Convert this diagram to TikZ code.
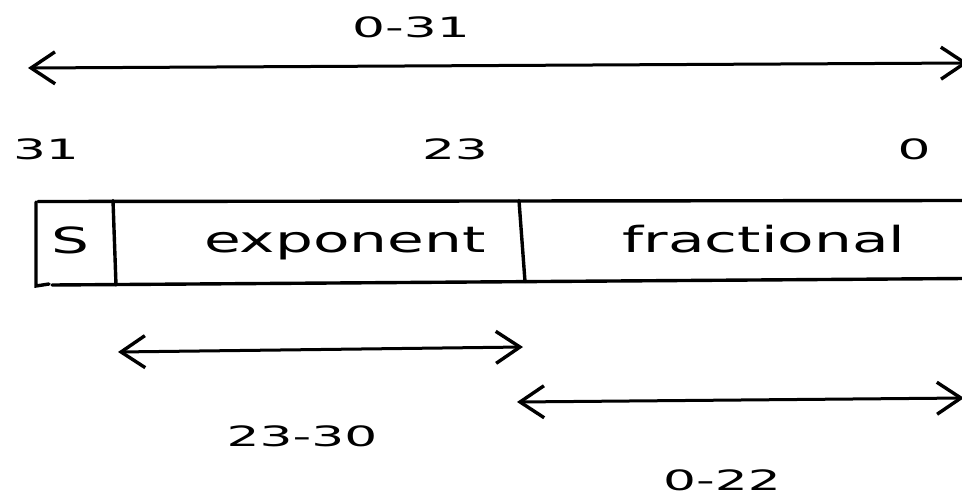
\documentclass[tikz,border=0pt]{standalone}
\usepackage{fontspec}
\setmainfont{DejaVu Sans}
\usetikzlibrary{arrows.meta}
\newcommand\widetxt[2]{\scalebox{#1}[1]{#2}}
\tikzset{
  ln/.style={line width=3.4pt, line cap=round},
  rng/.style={line width=3pt, line cap=round, {Straight Barb[length=24pt,width=32pt,line width=3.4pt]}-{Straight Barb[length=24pt,width=32pt,line width=3.4pt]}},
  boxtxt/.style={anchor=base, inner sep=0pt, font=\fontsize{36}{40}\selectfont},
  lbl/.style={anchor=base, inner sep=0pt, font=\fontsize{28}{32}\selectfont},
}
\begin{document}
\begin{tikzpicture}[x=1pt,y=-1pt]
\useasboundingbox (0,0) rectangle (962,496);
% coordinates
\coordinate (tl) at (28,68);
\coordinate (tr) at (968,63);
\coordinate (el) at (118,352);
\coordinate (er) at (523,347);
\coordinate (fl) at (517,402);
\coordinate (fr) at (964,398);
\coordinate (b1) at (36,202);
\coordinate (b2) at (36,286);
\coordinate (b3) at (49,284);
\coordinate (t1) at (38,201.5);
\coordinate (t2) at (964,200.5);
\coordinate (u1) at (52,285);
\coordinate (u2) at (964,278.5);
\coordinate (s1) at (113,200.5);
\coordinate (s2) at (116,285);
\coordinate (d1) at (519,200.5);
\coordinate (d2) at (525,281.5);
% box
\draw[ln] (b1) -- (b2) -- (b3);
\draw[ln] (t1) -- (t2);
\draw[ln] (u1) -- (u2);
\draw[ln] (s1) -- (s2);
\draw[ln] (d1) -- (d2);
% ranges
\draw[rng] (tl) -- (tr);
\draw[rng] (el) -- (er);
\draw[rng] (fl) -- (fr);
% texts
\node[lbl] (a) at (411,37) {\widetxt{1.85}{0-31}};
\node[lbl] (b) at (46,159) {\widetxt{1.85}{31}};
\node[lbl] (c) at (455,159) {\widetxt{1.85}{23}};
\node[lbl] (d) at (914,159) {\widetxt{1.85}{0}};
\node[boxtxt] (s) at (70,253) {\widetxt{1.66}{S}};
\node[boxtxt] (e) at (345,252) {\widetxt{1.66}{exponent}};
\node[boxtxt] (f) at (764,252) {\widetxt{1.66}{fractional}};
\node[lbl] (g) at (302,446) {\widetxt{1.85}{23-30}};
\node[lbl] (h) at (722,490) {\widetxt{1.85}{0-22}};
\end{tikzpicture}
\end{document}
